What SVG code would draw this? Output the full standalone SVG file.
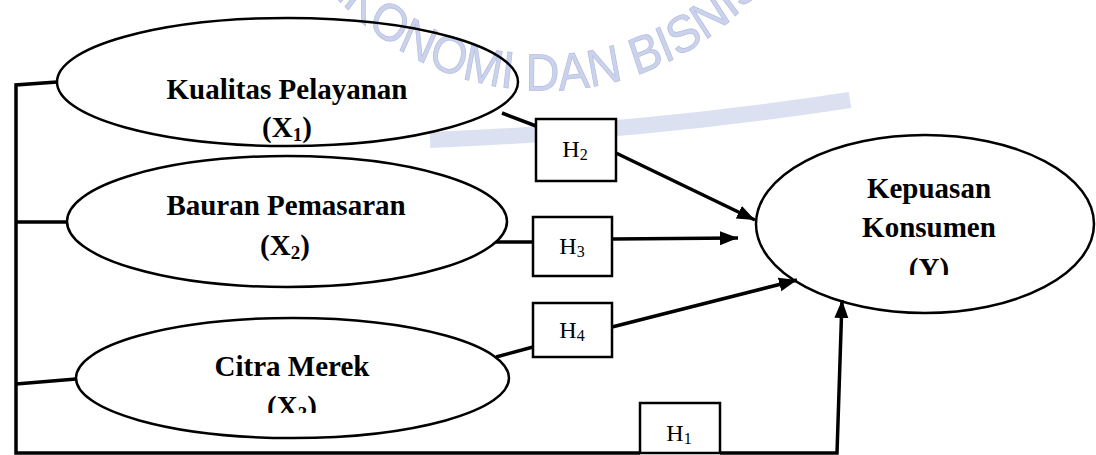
<svg xmlns="http://www.w3.org/2000/svg" width="1096" height="455" viewBox="0 0 1096 455">
<style>
.ell{fill:none;stroke:#000;stroke-width:2.5}
.box{fill:#fff;stroke:#000;stroke-width:2.5}
.con{fill:none;stroke:#000;stroke-width:3.5}
.lbl{font-family:"Liberation Serif","Times New Roman",serif;font-weight:bold;font-size:29px;fill:#000}
.h{font-family:"Liberation Serif","Times New Roman",serif;font-size:24px;fill:#000}
.wm{font-family:"Liberation Sans",Arial,sans-serif;font-size:52px;fill:#c3cbe8;stroke:#aab4dc;stroke-width:0.8}
</style>
<defs>
<marker id="arr" markerUnits="userSpaceOnUse" markerWidth="20" markerHeight="16" refX="18" refY="7" orient="auto">
<path d="M0,0 L18,7 L0,14 z" fill="#000"/>
</marker>
<path id="wmarc" d="M333.3,-54 A311.1,280 0 0,0 911.1,-137"/>
<clipPath id="clip3"><rect x="0" y="0" width="1096" height="413"/></clipPath>
<clipPath id="clipY"><rect x="0" y="0" width="1096" height="275"/></clipPath>
</defs>
<rect width="1096" height="455" fill="#fff"/>
<g id="watermark" opacity="0.85">
<path d="M430,140 Q640,132 850,100" fill="none" stroke="#d6dcf0" stroke-width="16"/>
<g transform="scale(0.9,1)">
<text class="wm"><textPath href="#wmarc" startOffset="40">EKONOMI DAN BISNIS</textPath></text>
</g>
</g>
<g id="connectors">
<polyline class="con" points="57,82 16,85 16,453 640,453"/>
<line class="con" x1="16" y1="222" x2="67" y2="222"/>
<line class="con" x1="16" y1="384" x2="76" y2="379"/>
<line class="con" x1="502" y1="113" x2="536" y2="126"/>
<line class="con" x1="616" y1="153" x2="755" y2="220" marker-end="url(#arr)"/>
<line class="con" x1="496" y1="242" x2="533" y2="242"/>
<line class="con" x1="612" y1="239" x2="738" y2="238" marker-end="url(#arr)"/>
<line class="con" x1="496" y1="357" x2="533" y2="347"/>
<line class="con" x1="612" y1="327" x2="797" y2="280" marker-end="url(#arr)"/>
<polyline class="con" points="720,453 837,453 842,300" marker-end="url(#arr)"/>
</g>
<g id="node-x1">
<ellipse class="ell" cx="287.5" cy="82" rx="230.5" ry="64"/>
<text class="lbl" x="287" y="99" text-anchor="middle">Kualitas Pelayanan</text>
<text class="lbl" x="287" y="137" text-anchor="middle">(X<tspan font-size="19" dy="4">1</tspan><tspan dy="-4">)</tspan></text>
</g>
<g id="node-x2">
<ellipse class="ell" cx="287" cy="221.5" rx="220" ry="65.5"/>
<text class="lbl" x="286" y="215" text-anchor="middle">Bauran Pemasaran</text>
<text class="lbl" x="285" y="255" text-anchor="middle">(X<tspan font-size="19" dy="4">2</tspan><tspan dy="-4">)</tspan></text>
</g>
<g id="node-x3">
<ellipse class="ell" cx="292.5" cy="378" rx="216.5" ry="60"/>
<text class="lbl" x="292" y="376" text-anchor="middle">Citra Merek</text>
<text class="lbl" x="292" y="416" text-anchor="middle" clip-path="url(#clip3)">(X<tspan font-size="19" dy="4">3</tspan><tspan dy="-4">)</tspan></text>
</g>
<g id="node-y">
<ellipse class="ell" cx="925" cy="224" rx="169" ry="89"/>
<text class="lbl" x="929" y="198" text-anchor="middle">Kepuasan</text>
<text class="lbl" x="929" y="237" text-anchor="middle">Konsumen</text>
<text class="lbl" x="929" y="278" text-anchor="middle" clip-path="url(#clipY)">(Y)</text>
</g>
<g id="node-h2">
<rect class="box" x="536" y="119" width="80" height="62"/>
<text class="h" x="575" y="157" text-anchor="middle">H<tspan font-size="16" dy="3">2</tspan></text>
</g>
<g id="node-h3">
<rect class="box" x="533" y="217" width="79" height="59"/>
<text class="h" x="572" y="254" text-anchor="middle">H<tspan font-size="16" dy="3">3</tspan></text>
</g>
<g id="node-h4">
<rect class="box" x="533" y="303" width="79" height="54"/>
<text class="h" x="572" y="338" text-anchor="middle">H<tspan font-size="16" dy="3">4</tspan></text>
</g>
<g id="node-h1">
<rect class="box" x="640" y="403" width="80" height="50"/>
<text class="h" x="679" y="441" text-anchor="middle">H<tspan font-size="16" dy="3">1</tspan></text>
</g>
</svg>
